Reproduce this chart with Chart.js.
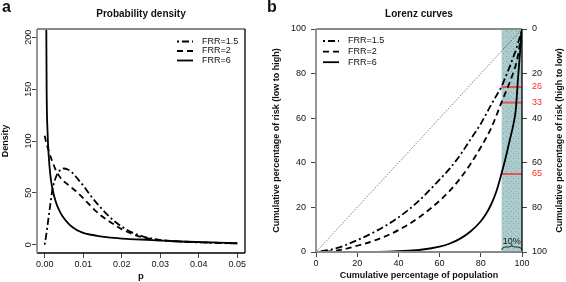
<!DOCTYPE html>
<html>
<head>
<meta charset="utf-8">
<script src="https://cdn.jsdelivr.net/npm/chart.js@4.4.1/dist/chart.umd.min.js"></script>
<style>
  html, body { margin: 0; padding: 0; background: #fff; }
  #wrap { position: relative; width: 566px; height: 282px; }
  #wrap canvas { position: absolute; left: 0; top: 0; }
</style>
</head>
<body>
<div id="wrap">
  <canvas id="densityChart" width="566" height="282"></canvas>
  <canvas id="lorenzChart" width="566" height="282"></canvas>
</div>
<script>
// panel a: probability density
const pValues = [0, 0.0003, 0.0005, 0.00075, 0.001, 0.0015, 0.002, 0.003, 0.004, 0.005, 0.006, 0.007, 0.008, 0.009, 0.01, 0.012, 0.014, 0.016, 0.018, 0.02, 0.022, 0.025, 0.03, 0.035, 0.04, 0.045, 0.05];
const densFRR15 = [0, 7, 12, 19, 26, 40, 53, 66, 72, 73.5, 72.5, 70, 66, 61.5, 57, 47, 38, 30, 23, 17.5, 13, 8.5, 4.5, 3, 2.2, 1.6, 1.2];
const densFRR2 = [105, 100, 97, 94, 91, 85, 80, 71, 65, 61, 58, 55, 52, 48.5, 45, 37, 30, 24.5, 19.5, 15, 11.5, 7.5, 4.5, 3.2, 2.4, 1.8, 1.3];
const densFRR6 = [null, 290, 150, 108, 88, 66, 54, 40, 31.5, 25.5, 21, 17.5, 15, 13, 11.5, 9.6, 8.3, 7.3, 6.5, 5.9, 5.4, 5, 4, 3.1, 2.5, 2, 1.5];
const pTicks = [0, 0.01, 0.02, 0.03, 0.04, 0.05];
const densTicks = [0, 50, 100, 150, 200];

// panel b: Lorenz curves
const popPct = [0, 10, 20, 30, 40, 50, 60, 65, 70, 75, 80, 82.5, 85, 87.5, 90, 92, 94, 96, 97, 98, 99, 100];
const lorenzFRR15 = [0, 1.7, 5.3, 9.8, 15.5, 23, 32.5, 37.5, 43.5, 50.5, 57.5, 61.7, 66, 70, 74, 78.5, 83, 88, 90.5, 93.5, 96.5, 100];
const lorenzFRR2 = [0, 0.6, 2.8, 5.7, 9.8, 15.5, 23, 27.5, 33, 39.5, 47, 51, 55.5, 61, 67, 71.5, 76, 81, 84, 88, 93.5, 100];
const lorenzFRR6 = [0, 0, 0, 0.1, 0.4, 0.9, 2.4, 3.8, 6, 9.2, 13.8, 17, 21.3, 27, 35, 42, 50, 58, 64, 77, 89, 100];
const pctTicks = [0, 20, 40, 60, 80, 100];
const topShare = [26, 33, 65];     // share of risk in top 10%, read on right axis
const topCut = 90;                 // start of top 10% of population

const seriesNames = ["FRR=1.5", "FRR=2", "FRR=6"];

const FONT = "'Liberation Sans', Arial, sans-serif";
const DASHDOT = [2, 3, 7, 3];
const DASHED = [6, 4];
const RED = "#e25555";

function pts(xs, ys) {
  return xs.map((x, i) => ({ x: x, y: ys[i] }));
}

function txt(ctx, s, x, y, font, align, rot, color) {
  ctx.save();
  ctx.font = font;
  ctx.fillStyle = color || "#111";
  ctx.textAlign = align || "center";
  ctx.textBaseline = "middle";
  ctx.translate(x, y);
  if (rot) ctx.rotate(rot);
  ctx.fillText(s, 0, 0);
  ctx.restore();
}

function drawLegend(ctx, x0, y0, step) {
  const dashes = [DASHDOT, DASHED, []];
  ctx.save();
  seriesNames.forEach((name, i) => {
    const y = y0 + i * step;
    ctx.beginPath();
    ctx.setLineDash(dashes[i]);
    ctx.lineWidth = 1.8;
    ctx.strokeStyle = "#000";
    ctx.moveTo(x0, y);
    ctx.lineTo(x0 + 16, y);
    ctx.stroke();
    txt(ctx, name, x0 + 25, y, "9px " + FONT, "left");
  });
  ctx.restore();
}

function box(ctx, a, colors) {
  const sides = [
    [a.left, a.top, a.right, a.top],
    [a.right, a.top, a.right, a.bottom],
    [a.left, a.bottom, a.right, a.bottom],
    [a.left, a.top, a.left, a.bottom]
  ];
  ctx.save();
  sides.forEach((s, i) => {
    ctx.beginPath();
    ctx.strokeStyle = colors[i];
    ctx.lineWidth = colors[i] === "#000" ? 1.3 : 1.8;
    ctx.moveTo(s[0], s[1]);
    ctx.lineTo(s[2], s[3]);
    ctx.stroke();
  });
  ctx.restore();
}

function fixedTicks(values) {
  return scale => { scale.ticks = values.map(v => ({ value: v })); };
}

const baseTicks = { color: "#111", font: { family: FONT, size: 9 }, autoSkip: false, maxRotation: 0 };
const baseGrid = { drawOnChartArea: false, drawTicks: true, tickLength: 5, color: "#444", lineWidth: 1 };

// ---------- panel a ----------
const densityDecor = {
  id: "densityDecor",
  afterDraw(chart) {
    const ctx = chart.ctx, a = chart.chartArea, ys = chart.scales.y;
    box(ctx, a, ["#8a8a8a", "#000", "#000", "#8a8a8a"]);
    densTicks.forEach(v => {
      txt(ctx, String(v), a.left - 8, ys.getPixelForValue(v), "9px " + FONT, "center", -Math.PI / 2);
    });
    const cx = (a.left + a.right) / 2;
    txt(ctx, "Probability density", cx, 14, "bold 10px " + FONT);
    txt(ctx, "p", cx, 276, "bold 9.5px " + FONT);
    txt(ctx, "Density", 6, (a.top + a.bottom) / 2, "bold 9px " + FONT, "center", -Math.PI / 2);
    txt(ctx, "a", 2, 8, "bold 16px " + FONT, "left");
    drawLegend(ctx, 177, 41.5, 9.5);
  }
};

new Chart(document.getElementById("densityChart"), {
  type: "line",
  data: {
    datasets: [
      { label: seriesNames[0], data: pts(pValues, densFRR15), borderDash: DASHDOT },
      { label: seriesNames[1], data: pts(pValues, densFRR2), borderDash: DASHED },
      { label: seriesNames[2], data: pts(pValues, densFRR6), borderDash: [] }
    ].map(d => Object.assign(d, {
      borderColor: "#000", borderWidth: 1.8, pointRadius: 0, fill: false,
      cubicInterpolationMode: "monotone", spanGaps: false
    }))
  },
  options: {
    responsive: false,
    animation: false,
    layout: { padding: { top: 29, right: 321, left: 0, bottom: 0 } },
    plugins: { legend: { display: false }, tooltip: { enabled: false } },
    scales: {
      x: {
        type: "linear", min: -0.002, max: 0.052,
        afterBuildTicks: fixedTicks(pTicks),
        afterFit: s => { s.height = 29; },
        ticks: Object.assign({}, baseTicks, { padding: 1, callback: v => v.toFixed(2) }),
        grid: baseGrid,
        border: { display: false }
      },
      y: {
        type: "linear", min: -8, max: 208,
        afterBuildTicks: fixedTicks(densTicks),
        afterFit: s => { s.width = 37; },
        ticks: Object.assign({}, baseTicks, { display: false }),
        grid: baseGrid,
        border: { display: false }
      }
    }
  },
  plugins: [densityDecor]
});

// ---------- panel b ----------
function stipple() {
  const c = document.createElement("canvas");
  c.width = 5; c.height = 5;
  const g = c.getContext("2d");
  g.fillStyle = "#abcccc";
  g.fillRect(0, 0, 5, 5);
  g.fillStyle = "#86a9a9";
  g.fillRect(1, 1, 1, 1);
  g.fillRect(3, 3, 1, 1);
  return g.createPattern(c, "repeat");
}

const lorenzDecor = {
  id: "lorenzDecor",
  afterDraw(chart) {
    const ctx = chart.ctx, a = chart.chartArea, xs = chart.scales.x;
    box(ctx, a, ["#8a8a8a", "#000", "#8a8a8a", "#8a8a8a"]);
    const cx = (a.left + a.right) / 2, cy = (a.top + a.bottom) / 2;
    txt(ctx, "Lorenz curves", cx, 14, "bold 10px " + FONT);
    txt(ctx, "Cumulative percentage of population", cx, 276, "bold 9px " + FONT);
    txt(ctx, "Cumulative percentage of risk (low to high)", 277, cy, "bold 9px " + FONT, "center", -Math.PI / 2);
    txt(ctx, "Cumulative percentage of risk (high to low)", 560, cy, "bold 9px " + FONT, "center", -Math.PI / 2);
    txt(ctx, "b", 267, 8, "bold 16px " + FONT, "left");
    drawLegend(ctx, 323, 41, 10.6);

    // "10%" brace under the shaded band
    const x1 = xs.getPixelForValue(topCut), x2 = xs.getPixelForValue(100);
    const mx = (x1 + x2) / 2, by = a.bottom - 2;
    ctx.save();
    ctx.beginPath();
    ctx.strokeStyle = "#000";
    ctx.lineWidth = 0.8;
    ctx.moveTo(x1, by);
    ctx.quadraticCurveTo(x1 + 1, by - 3, x1 + 4, by - 3);
    ctx.lineTo(mx - 3, by - 3);
    ctx.quadraticCurveTo(mx, by - 3, mx, by - 5.5);
    ctx.quadraticCurveTo(mx, by - 3, mx + 3, by - 3);
    ctx.lineTo(x2 - 4, by - 3);
    ctx.quadraticCurveTo(x2 - 1, by - 3, x2, by);
    ctx.stroke();
    ctx.restore();
    txt(ctx, "10%", mx, by - 8, "9px " + FONT);
  }
};

const lorenzSets = [
  { data: pts(popPct, lorenzFRR15), borderDash: DASHDOT },
  { data: pts(popPct, lorenzFRR2), borderDash: DASHED },
  { data: pts(popPct, lorenzFRR6), borderDash: [] }
].map((d, i) => Object.assign(d, {
  label: seriesNames[i], borderColor: "#000", borderWidth: 1.8, pointRadius: 0,
  fill: false, cubicInterpolationMode: "monotone", order: 1
}));

const redLines = topShare.map(v => ({
  label: "top10 " + v,
  data: [{ x: topCut, y: 100 - v }, { x: 100, y: 100 - v }],
  borderColor: RED, borderWidth: 2, pointRadius: 0, fill: false, order: 2
}));

const diagonal = {
  label: "equality",
  data: [{ x: 0, y: 0 }, { x: 100, y: 100 }],
  borderColor: "#333", borderWidth: 0.8, borderDash: [1, 1.5], pointRadius: 0, fill: false, order: 3
};

const shade = {
  label: "top 10%",
  data: [{ x: topCut, y: 100 }, { x: 100, y: 100 }],
  borderWidth: 0, borderColor: "rgba(0,0,0,0)", backgroundColor: stipple(),
  pointRadius: 0, fill: "origin", order: 4
};

const rightTicks = pctTicks.concat(topShare);

new Chart(document.getElementById("lorenzChart"), {
  type: "line",
  data: { datasets: lorenzSets.concat(redLines, [diagonal, shade]) },
  options: {
    responsive: false,
    animation: false,
    layout: { padding: { top: 29, right: 0, left: 270, bottom: 0 } },
    plugins: { legend: { display: false }, tooltip: { enabled: false } },
    scales: {
      x: {
        type: "linear", min: 0, max: 100,
        afterBuildTicks: fixedTicks(pctTicks),
        afterFit: s => { s.height = 30; },
        ticks: Object.assign({}, baseTicks, { padding: 1 }),
        grid: baseGrid,
        border: { display: false }
      },
      y: {
        type: "linear", position: "left", min: 0, max: 100,
        afterBuildTicks: fixedTicks(pctTicks),
        afterFit: s => { s.width = 46; },
        ticks: Object.assign({}, baseTicks, { padding: 5 }),
        grid: baseGrid,
        border: { display: false }
      },
      y2: {
        type: "linear", position: "right", min: 0, max: 100, reverse: true,
        afterBuildTicks: fixedTicks(rightTicks),
        afterFit: s => { s.width = 44; },
        ticks: Object.assign({}, baseTicks, {
          padding: 5,
          color: c => topShare.includes(c.tick.value) ? "#ff2a2a" : "#111"
        }),
        grid: Object.assign({}, baseGrid, {
          color: c => (c.tick && topShare.includes(c.tick.value)) ? "rgba(0,0,0,0)" : "#444"
        }),
        border: { display: false }
      }
    }
  },
  plugins: [lorenzDecor]
});
</script>
</body>
</html>
